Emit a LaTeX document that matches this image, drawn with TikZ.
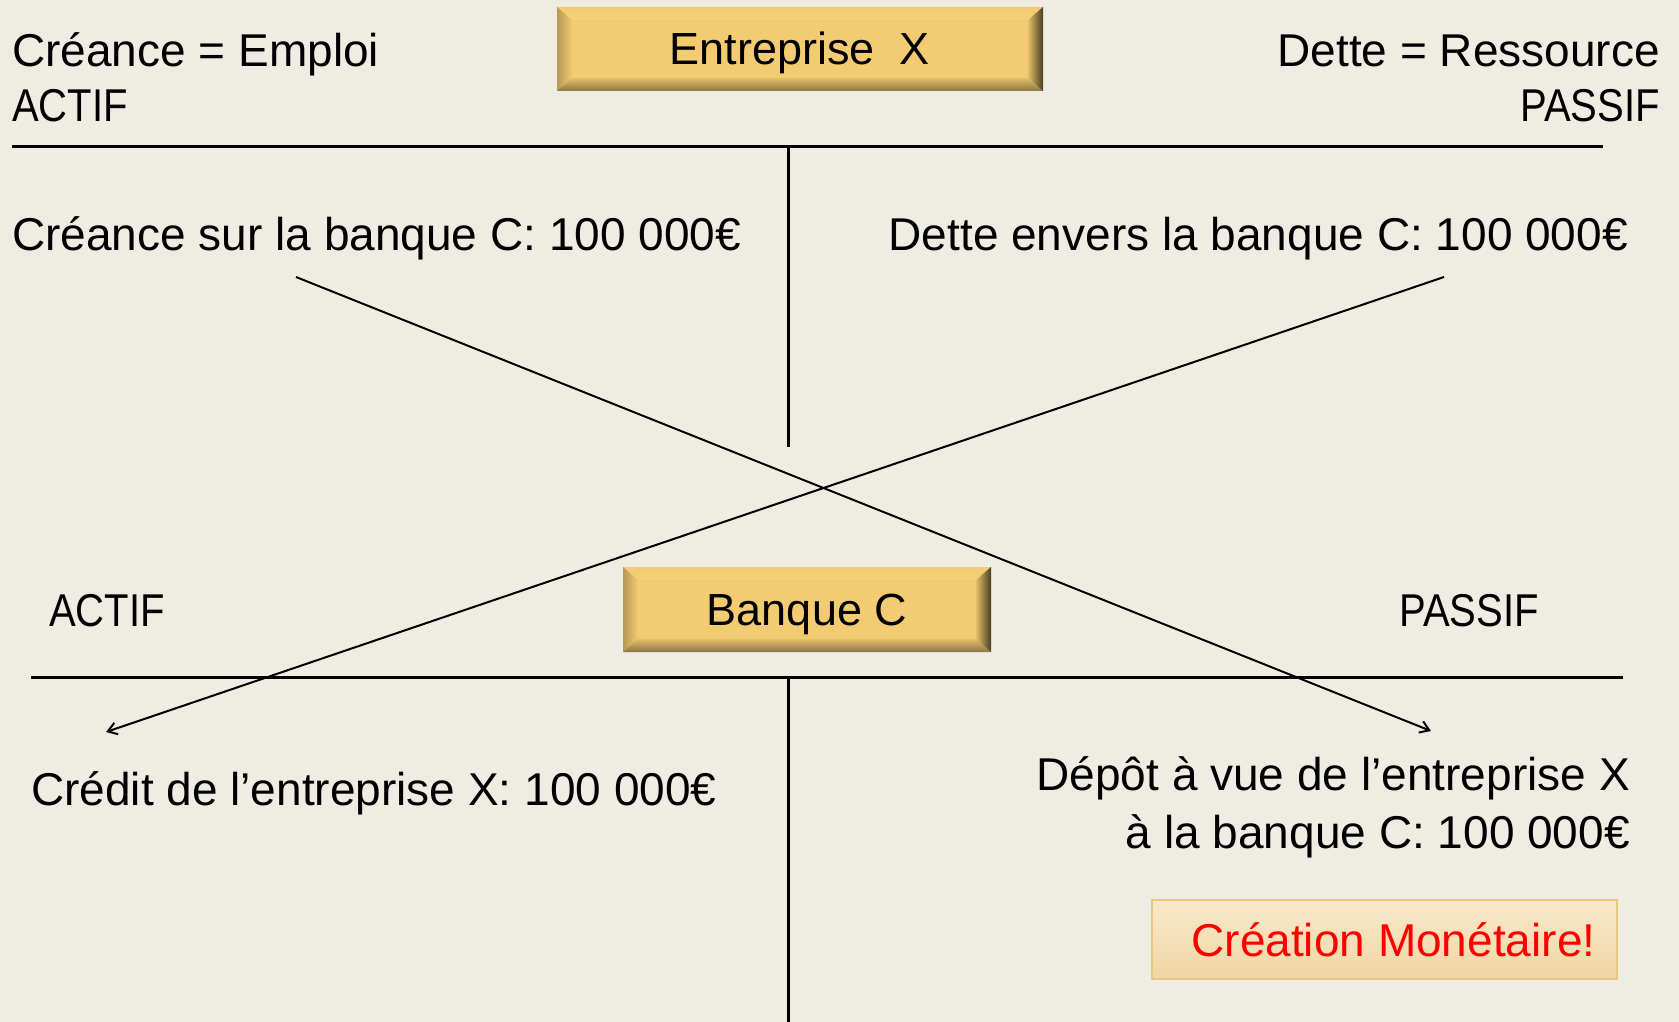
\documentclass[tikz,border=0pt]{standalone}
\usepackage{fontspec}
\setmainfont{Liberation Sans}
% narrower cut for the all-capital column headings
\newfontfamily\headfont[FakeStretch=0.87]{Liberation Sans}
\usetikzlibrary{arrows.meta}

\definecolor{paper}{HTML}{EFECE4}
\definecolor{gold}{HTML}{F2CB72}
\definecolor{goldlight}{HTML}{FFEE98}
\definecolor{goldmid}{HTML}{E4BF68}
\definecolor{goldshadow}{HTML}{8C7444}
\definecolor{golddark}{HTML}{4A3D24}
\definecolor{noteA}{HTML}{F8E8CC}
\definecolor{noteB}{HTML}{F1D6A2}
\definecolor{noteline}{HTML}{EAC77E}
\definecolor{alert}{HTML}{FF0000}

\tikzset{
  big/.style={font=\fontsize{46}{56}\selectfont, inner sep=0pt},
  head/.style={font=\headfont\fontsize{46}{56}\selectfont, inner sep=0pt},
  ledger/.style={line width=3pt, black},
  flow/.style={line width=2pt, black, -{Straight Barb[length=9pt,width=12pt,line width=2pt]}},
  bevelbox/.style={fill=gold, font=\fontsize{45}{52}\selectfont, inner sep=0pt,
    text height=32pt, text depth=0pt,
    path picture={
      % top bevel
      \shade[top color=gold, bottom color=goldlight]
        (path picture bounding box.north west) -- (path picture bounding box.north east)
        -- ([xshift=-15pt,yshift=-13pt]path picture bounding box.north east)
        -- ([xshift=15pt,yshift=-13pt]path picture bounding box.north west) -- cycle;
      % left bevel
      \shade[left color=goldmid!80!black, right color=gold]
        (path picture bounding box.north west) -- ([xshift=15pt,yshift=-13pt]path picture bounding box.north west)
        -- ([xshift=15pt,yshift=13pt]path picture bounding box.south west)
        -- (path picture bounding box.south west) -- cycle;
      % bottom bevel
      \shade[top color=goldmid, bottom color=goldshadow]
        (path picture bounding box.south west) -- ([xshift=15pt,yshift=13pt]path picture bounding box.south west)
        -- ([xshift=-15pt,yshift=13pt]path picture bounding box.south east)
        -- (path picture bounding box.south east) -- cycle;
      % right bevel
      \shade[left color=goldmid, right color=golddark]
        (path picture bounding box.north east) -- ([xshift=-15pt,yshift=-13pt]path picture bounding box.north east)
        -- ([xshift=-15pt,yshift=13pt]path picture bounding box.south east)
        -- (path picture bounding box.south east) -- cycle;
    }},
  notebox/.style={top color=noteA, bottom color=noteB, draw=noteline, line width=2pt,
    font=\fontsize{46}{56}\selectfont, text=alert, inner sep=0pt,
    text height=34pt, text depth=0pt}
}

\begin{document}
\begin{tikzpicture}[x=1pt,y=-1pt]
  \fill[paper] (0,0) rectangle (1679,1022);
  \useasboundingbox (0,0) rectangle (1679,1022);

  % ---- company balance sheet ----
  \node[bevelbox, minimum width=486pt, minimum height=84pt] (firm) at (800,49) {Entreprise\ \ X};

  \node[big, anchor=base west] (firmcl) at (12,67) {Créance = Emploi};
  \node[head, anchor=base west] (firmact) at (12,122) {ACTIF};
  \node[big, anchor=base east] (firmdt) at (1660,67) {Dette = Ressource};
  \node[head, anchor=base east] (firmpas) at (1660,122) {PASSIF};

  \coordinate (t1l) at (12,147);
  \coordinate (t1r) at (1603,147);
  \coordinate (t1top) at (788,147);
  \coordinate (t1bot) at (788,447);
  \draw[ledger] (t1l) -- (t1r);
  \draw[ledger] (t1top) -- (t1bot);

  \node[big, anchor=base west] (claim) at (12,250) {Créance sur la banque C: 100 000€};
  \node[big, anchor=base east] (debt) at (1628,250) {Dette envers la banque C: 100 000€};

  % ---- bank balance sheet ----
  \node[bevelbox, minimum width=368pt, minimum height=85pt] (bank) at (807,609.5) {Banque C};

  \node[head, anchor=base west] (bankact) at (49,626) {ACTIF};
  \node[head, anchor=base east] (bankpas) at (1539,626) {PASSIF};

  \coordinate (t2l) at (31,677);
  \coordinate (t2r) at (1623,677);
  \coordinate (t2top) at (788,677);
  \coordinate (t2bot) at (788,1022);
  \draw[ledger] (t2l) -- (t2r);
  \draw[ledger] (t2top) -- (t2bot);

  \node[big, anchor=base west] (loan) at (31,805) {Crédit de l’entreprise X: 100 000€};
  \node[big, anchor=base east] (deposit) at (1630,790) {Dépôt à vue de l’entreprise X};
  \node[big, anchor=base east] (deposit2) at (1630,848) {à la banque C: 100 000€};

  \node[notebox, minimum width=465pt, minimum height=79pt] (money) at (1384.5,939.5) {\hspace*{18pt}Création Monétaire!};

  % ---- crossing entries ----
  \coordinate (claimstart) at (296,277);
  \coordinate (claimend) at (1431,731);
  \coordinate (debtstart) at (1444,277);
  \coordinate (debtend) at (106,732);
  \draw[flow] (claimstart) -- (claimend);
  \draw[flow] (debtstart) -- (debtend);
\end{tikzpicture}
\end{document}
